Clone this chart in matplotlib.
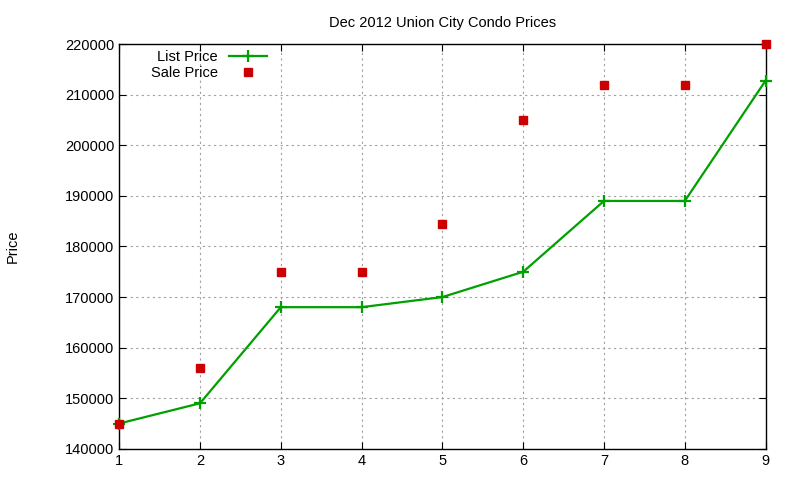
import matplotlib
matplotlib.use("Agg")
import matplotlib.pyplot as plt

plt.rcParams['font.family'] = ['Liberation Sans', 'DejaVu Sans']

# data
units = [1, 2, 3, 4, 5, 6, 7, 8, 9]
list_price = [145000, 149000, 168000, 168000, 170000, 175000, 189000, 189000, 212800]
sale_price = [145000, 156000, 175000, 175000, 184500, 205000, 212000, 212000, 220000]

fig = plt.figure(figsize=(8, 4.8), dpi=100)
ax = fig.add_axes([0.149, 0.065, 0.808, 0.843])

ax.plot(units, list_price, color="#00a000", linewidth=1.6, marker="+",
        markersize=8, markeredgewidth=1.6, label="List Price", clip_on=False, zorder=3)
ax.plot(units, sale_price, linestyle="none", marker="s", color="#cc0000",
        markersize=5.5, label="Sale Price", clip_on=False, zorder=3)

ax.set_xlim(1, 9)
ax.set_ylim(140000, 220000)
ax.set_xticks(units)
ax.set_yticks(range(140000, 220001, 10000))
ax.grid(True, color="#a0a0a0", linestyle=(0, (2, 3)), linewidth=0.8)
ax.tick_params(direction="in", top=True, right=True, labelsize=10.5, length=5)
for s in ax.spines.values():
    s.set_linewidth(1.0)

ax.set_title("Dec 2012 Union City Condo Prices", fontsize=10.5, pad=12)
ax.set_ylabel("Price", fontsize=10.5)
ax.yaxis.set_label_coords(-0.154, 0.5)

leg = ax.legend(loc="upper left", bbox_to_anchor=(0.033, 1.01), frameon=False,
                markerfirst=False, fontsize=10.5, handlelength=2.6,
                borderaxespad=0.3, labelspacing=0.1)
for t in leg.get_texts():
    t.set_ha("right")
    t.set_position((0, 0))

fig.savefig("out.png", dpi=100)
